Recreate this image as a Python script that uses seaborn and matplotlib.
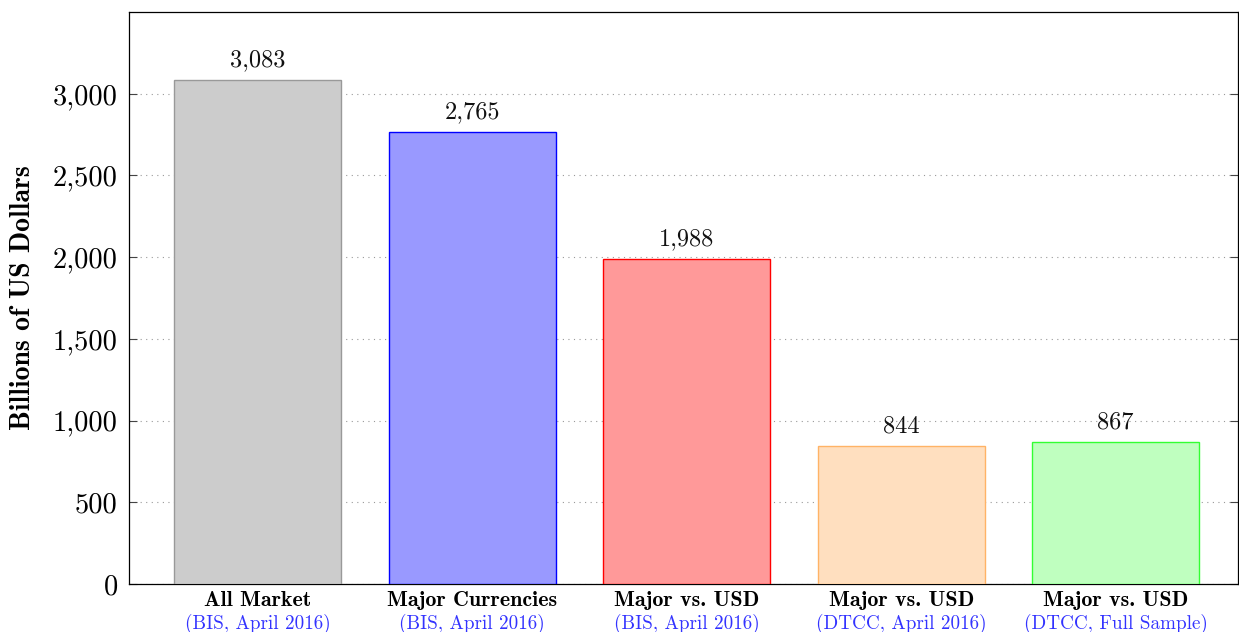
import matplotlib
matplotlib.use("Agg")
from matplotlib import pyplot as plt
import matplotlib.transforms as mtransforms
from matplotlib.ticker import FuncFormatter
import pandas as pd
import seaborn as sns

# data
categories = ["All Market", "Major Currencies", "Major vs. USD",
              "Major vs. USD ", "Major vs. USD  "]
sources = ["(BIS, April 2016)", "(BIS, April 2016)", "(BIS, April 2016)",
           "(DTCC, April 2016)", "(DTCC, Full Sample)"]
volumes = [3083, 2765, 1988, 844, 867]
y_ticks = [0, 500, 1000, 1500, 2000, 2500, 3000]

fill_colors = ["#cccccc", "#9999ff", "#ff9999", "#ffdfbf", "#bfffbf"]
edge_colors = ["#999999", "#0000ff", "#ff0000", "#ffb366", "#33ff33"]

sns.set_theme(style="white")
plt.rcParams["font.family"] = ["cmr10", "DejaVu Serif"]
plt.rcParams["axes.formatter.use_mathtext"] = True
plt.rcParams["mathtext.fontset"] = "cm"
plt.rcParams["text.color"] = "black"
plt.rcParams["axes.labelcolor"] = "black"
plt.rcParams["xtick.color"] = "black"
plt.rcParams["ytick.color"] = "black"

df = pd.DataFrame({"category": categories, "volume": volumes})

fig = plt.figure(figsize=(12.39, 6.32), dpi=100)
ax = fig.add_axes([0.1041, 0.0759, 0.8951, 0.9051])

sns.barplot(data=df, x="category", y="volume", hue="category",
            palette=fill_colors, width=0.777, ax=ax, legend=False,
            saturation=1)
for patch, ec in zip(ax.patches, edge_colors):
    patch.set_edgecolor(ec)
    patch.set_linewidth(1.0)
    patch.set_zorder(3)

# value labels above the bars
for i, v in enumerate(volumes):
    ax.annotate("{:,}".format(v), (i, v), xytext=(0, 6.5),
                textcoords="offset points", ha="center", va="bottom",
                fontsize=17.5, color="#111111")

ax.set_xlim(-0.6, 4.57)
ax.set_ylim(0, 3500)
ax.set_yticks(y_ticks)
ax.yaxis.set_major_formatter(FuncFormatter(lambda v, p: "{:,}".format(int(v))))
ax.tick_params(axis="y", labelsize=20.5, direction="in", length=6,
               width=0.8, color="#444444", labelcolor="black",
               right=True, left=True, pad=8)
ax.tick_params(axis="x", length=0, pad=5, labelcolor="black")
ax.grid(axis="y", linestyle=(0, (1, 4)), color="#999999", linewidth=0.8)
ax.set_axisbelow(True)

ax.set_xticks(range(len(categories)))
ax.set_xticklabels([c.strip() for c in categories], fontfamily="cmb10",
                   fontsize=15.8)
trans = mtransforms.blended_transform_factory(ax.transData, ax.transAxes)
for i, s in enumerate(sources):
    ax.text(i, -0.07, s, transform=trans, ha="center", va="center",
            fontsize=13.8, color="#3333ff")

ax.set_xlabel("")
ax.set_ylabel("Billions of US Dollars", fontfamily="cmb10", fontsize=20,
              labelpad=12, color="black")

for side in ["left", "bottom", "top", "right"]:
    ax.spines[side].set_visible(True)
    ax.spines[side].set_color("black")
    ax.spines[side].set_linewidth(0.9)

fig.savefig("out.png", dpi=100)
